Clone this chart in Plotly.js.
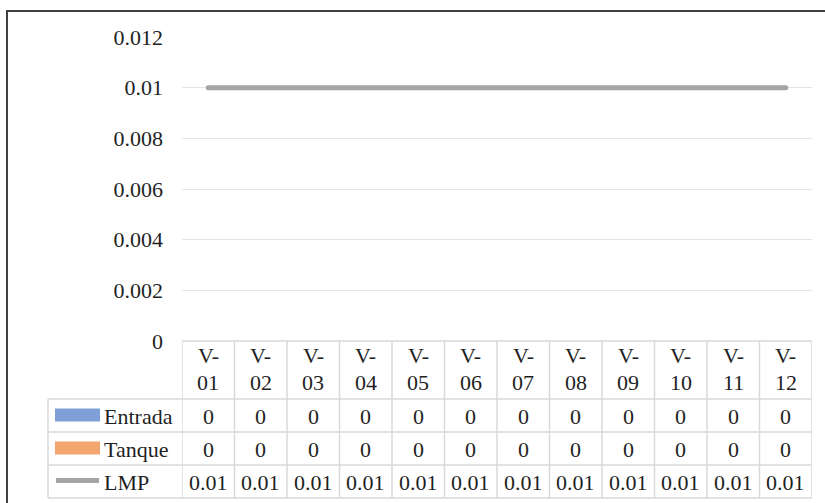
<!DOCTYPE html>
<html>
<head>
<meta charset="utf-8">
<script src="https://cdn.plot.ly/plotly-3.0.1.min.js"></script>
<style>html,body{margin:0;padding:0;background:#fff;}#chart{width:825px;height:503px;}</style>
</head>
<body>
<div id="chart"></div>
<script>
// ---- data ----
const categories = ["V-01","V-02","V-03","V-04","V-05","V-06","V-07","V-08","V-09","V-10","V-11","V-12"];
const entrada = [0,0,0,0,0,0,0,0,0,0,0,0];
const tanque  = [0,0,0,0,0,0,0,0,0,0,0,0];
const lmp     = [0.01,0.01,0.01,0.01,0.01,0.01,0.01,0.01,0.01,0.01,0.01,0.01];
const seriesNames = ["Entrada","Tanque","LMP"];
const tickValues = [0,0.002,0.004,0.006,0.008,0.01,0.012];
const tickLabels = ["0","0.002","0.004","0.006","0.008","0.01","0.012"];

// ---- layout geometry (pixels) ----
const W = 825, H = 503;
const plotL = 182, plotR = 812, plotT = 37, plotB = 498;
const axisBottom = 341;
const rowLines = [341, 399, 432, 465, 498];
const legendLeft = 48;
const fontFam = 'Liberation Serif, Times New Roman, serif';
const txtColor = '#1f1f1f';
const gridColor = '#d9d9d9';
const colors = ['#7f9fd9', '#f4a46f', '#a5a5a5'];

const pw = plotR - plotL, ph = plotB - plotT;
const px = x => (x - plotL) / pw;
const py = y => (plotB - y) / ph;
const cellFont = {family:fontFam, size:22, color:txtColor};

const n = categories.length;
const shapes = [];
const annotations = [];

// table horizontal lines
shapes.push({type:'line', xref:'paper', yref:'paper', x0:px(plotL), x1:px(plotR), y0:py(rowLines[0]), y1:py(rowLines[0]), line:{color:gridColor,width:1.5}});
for (let r = 1; r < rowLines.length; r++) {
  shapes.push({type:'line', xref:'paper', yref:'paper', x0:px(legendLeft), x1:px(plotR), y0:py(rowLines[r]), y1:py(rowLines[r]), line:{color:gridColor,width:1.5}});
}
// table vertical lines at category boundaries
for (let i = 0; i <= n; i++) {
  shapes.push({type:'line', xref:'x', yref:'paper', x0:i-0.5, x1:i-0.5, y0:py(rowLines[0]), y1:py(rowLines[4]), line:{color:gridColor,width:1.5}});
}
shapes.push({type:'line', xref:'paper', yref:'paper', x0:px(legendLeft), x1:px(legendLeft), y0:py(rowLines[1]), y1:py(rowLines[4]), line:{color:gridColor,width:1.5}});

// header labels (two lines)
categories.forEach((c, i) => {
  const parts = c.split('-');
  annotations.push({xref:'x', yref:'paper', x:c, y:py(356), text: parts[0] + '-', showarrow:false, font:cellFont, yanchor:'middle'});
  annotations.push({xref:'x', yref:'paper', x:c, y:py(382), text: parts[1], showarrow:false, font:cellFont, yanchor:'middle'});
});
// data cells
const rowsData = [entrada, tanque, lmp];
rowsData.forEach((vals, r) => {
  const yc = (rowLines[r+1] + rowLines[r+2]) / 2 + 1;
  vals.forEach((v, i) => {
    annotations.push({xref:'x', yref:'paper', x:categories[i], y:py(yc), text:String(v), showarrow:false, font:cellFont, yanchor:'middle'});
  });
  // legend label
  annotations.push({xref:'paper', yref:'paper', x:px(102), y:py(yc), text:seriesNames[r], showarrow:false, xanchor:'left', yanchor:'middle', font:cellFont});
  // legend key
  if (r < 2) {
    shapes.push({type:'rect', xref:'paper', yref:'paper', x0:px(55), x1:px(100), y0:py(yc-8), y1:py(yc+5), fillcolor:colors[r], line:{width:0}});
  } else {
    shapes.push({type:'line', xref:'paper', yref:'paper', x0:px(56), x1:px(99), y0:py(yc-2), y1:py(yc-2), line:{color:colors[r], width:5}});
  }
});

// outer frame (top and left visible)
shapes.push({type:'line', xref:'paper', yref:'paper', x0:px(7), x1:px(7), y0:py(10), y1:py(H+5), line:{color:'#404040',width:2}});
shapes.push({type:'line', xref:'paper', yref:'paper', x0:px(6), x1:px(W+5), y0:py(11), y1:py(11), line:{color:'#404040',width:2}});

const traces = [
  {type:'bar', name:seriesNames[0], x:categories, y:entrada, marker:{color:colors[0]}, showlegend:false},
  {type:'bar', name:seriesNames[1], x:categories, y:tanque, marker:{color:colors[1]}, showlegend:false},
  {type:'scatter', mode:'lines', name:seriesNames[2], x:categories, y:lmp, line:{color:colors[2], width:5}, showlegend:false}
];

const layout = {
  width: W, height: H,
  margin: {l: plotL, r: W - plotR, t: plotT, b: H - plotB},
  paper_bgcolor: '#fff', plot_bgcolor: '#fff',
  showlegend: false,
  xaxis: {type:'category', range:[-0.5, n-0.5], showticklabels:false, showgrid:false, zeroline:false, showline:false, ticks:'', fixedrange:true},
  yaxis: {domain:[py(axisBottom), 1], range:[0, 0.012], tickvals:tickValues, ticktext:tickLabels, showgrid:true, gridcolor:'#e4e4e4', gridwidth:1, zeroline:false, showline:false, ticks:'', ticklabelstandoff:18, tickfont:cellFont},
  shapes: shapes,
  annotations: annotations,
  font: {family: fontFam}
};

Plotly.newPlot('chart', traces, layout, {staticPlot:true, displayModeBar:false}).then(() => {
  document.querySelectorAll('.scatterlayer path.js-line').forEach(p => p.style.strokeLinecap = 'round');
});
</script>
</body>
</html>
